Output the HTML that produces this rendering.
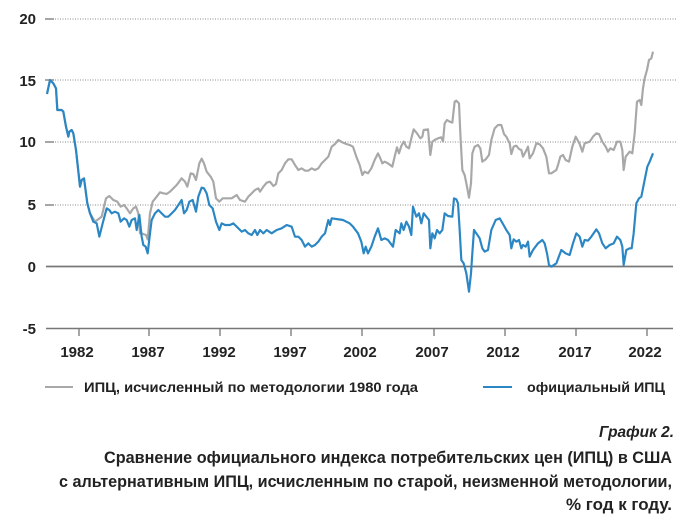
<!DOCTYPE html>
<html><head><meta charset="utf-8"><style>
html,body{margin:0;padding:0;background:#fff;}
svg{display:block;font-family:"Liberation Sans","DejaVu Sans",sans-serif;}
</style></head><body>
<svg width="686" height="531" viewBox="0 0 686 531" xmlns="http://www.w3.org/2000/svg">
<g stroke="#8a8a8a" stroke-width="1" stroke-dasharray="1,1.5">
<line x1="55" y1="19" x2="676" y2="19"/>
<line x1="55" y1="80" x2="676" y2="80"/>
<line x1="55" y1="142" x2="676" y2="142"/>
<line x1="55" y1="205" x2="676" y2="205"/>
</g>
<g stroke="#777" stroke-width="1.3">
<line x1="45" y1="19" x2="54" y2="19"/>
<line x1="45" y1="80" x2="54" y2="80"/>
<line x1="45" y1="142" x2="54" y2="142"/>
<line x1="45" y1="205" x2="54" y2="205"/>
</g>
<line x1="46" y1="266.5" x2="673" y2="266.5" stroke="#777" stroke-width="1.8"/>
<line x1="46" y1="328.5" x2="673" y2="328.5" stroke="#777" stroke-width="1.5"/>
<g stroke="#777" stroke-width="1.3">
<line x1="79" y1="328" x2="79" y2="336"/><line x1="149" y1="328" x2="149" y2="336"/><line x1="220" y1="328" x2="220" y2="336"/><line x1="291" y1="328" x2="291" y2="336"/><line x1="362" y1="328" x2="362" y2="336"/><line x1="434" y1="328" x2="434" y2="336"/><line x1="505" y1="328" x2="505" y2="336"/><line x1="576" y1="328" x2="576" y2="336"/><line x1="647" y1="328" x2="647" y2="336"/>
</g>
<g font-size="15" font-weight="bold" fill="#222" text-anchor="end">
<text x="36" y="24">20</text><text x="36" y="86">15</text><text x="36" y="147">10</text><text x="36" y="210">5</text><text x="36" y="272">0</text><text x="36" y="334">-5</text>
</g>
<g font-size="15" font-weight="bold" fill="#222" text-anchor="middle">
<text x="77" y="357">1982</text><text x="148" y="357">1987</text><text x="219" y="357">1992</text><text x="290" y="357">1997</text><text x="360" y="357">2002</text><text x="432" y="357">2007</text><text x="503" y="357">2012</text><text x="575" y="357">2017</text><text x="645" y="357">2022</text>
</g>
<g transform="scale(0.33333)" fill="none" stroke-linejoin="round" stroke-width="6.5">
<polyline stroke="#a8a8a8" points="141,282 150,240 160,250 168,265 172,330 185,330 190,335 198,380 205,410 208,395 215,390 220,400 228,450 240,560 245,540 252,535 258,580 262,610 270,640 285,665 292,660 305,650 318,595 328,588 340,600 352,605 362,620 372,615 380,625 390,640 400,625 408,620 415,640 420,700 430,702 438,705 443,718 450,640 458,605 470,590 480,577 490,580 500,582 510,575 520,565 530,555 545,535 555,545 562,560 572,520 580,522 588,540 598,490 605,476 612,490 620,515 632,530 640,545 648,595 658,605 668,595 680,595 695,595 710,585 720,600 735,605 745,590 755,580 765,570 775,565 780,575 790,560 800,548 810,545 820,558 828,552 835,520 845,510 855,490 865,478 875,478 885,495 895,510 905,505 915,512 925,512 935,505 945,510 955,505 965,490 975,480 985,470 995,440 1005,432 1015,420 1029,428 1039,432 1049,435 1059,440 1069,470 1079,495 1087,525 1094,515 1104,520 1114,505 1124,480 1134,460 1141,475 1147,490 1154,485 1164,490 1177,500 1184,470 1191,442 1197,460 1204,438 1211,425 1219,440 1227,445 1234,415 1241,388 1251,400 1261,415 1267,410 1271,390 1284,388 1291,465 1297,425 1304,420 1314,415 1324,412 1329,425 1334,370 1341,360 1349,365 1357,368 1364,305 1369,302 1377,310 1381,400 1387,510 1394,525 1401,560 1407,593 1413,550 1417,460 1424,440 1434,435 1441,445 1447,485 1457,478 1467,465 1474,420 1484,385 1494,375 1504,375 1512,402 1519,410 1529,430 1534,462 1541,440 1549,437 1557,447 1564,450 1569,470 1577,455 1584,440 1589,475 1599,460 1609,430 1619,433 1629,445 1639,470 1647,520 1654,520 1669,510 1674,495 1681,470 1689,465 1697,480 1707,485 1717,440 1727,410 1739,432 1747,455 1754,430 1769,425 1779,410 1789,400 1797,402 1807,425 1817,440 1824,455 1831,445 1841,450 1851,425 1861,425 1867,450 1871,510 1877,470 1889,455 1897,460 1904,400 1911,305 1919,300 1924,315 1929,265 1934,235 1941,210 1947,180 1954,175 1959,155"/>
<polyline stroke="#2b86c4" points="141,282 150,240 160,250 168,265 172,330 185,330 190,335 198,380 205,410 208,395 215,390 220,400 228,450 240,560 245,540 252,535 258,580 262,610 270,640 280,665 290,670 298,710 308,670 320,625 328,630 335,640 345,635 355,640 362,665 372,655 380,660 388,680 395,660 405,655 410,690 418,645 425,710 430,735 437,740 443,760 450,700 455,660 465,640 475,630 485,640 495,650 505,650 515,640 525,630 535,615 545,600 552,640 560,630 568,605 578,600 588,635 595,590 605,563 612,565 620,580 628,615 638,625 648,665 658,690 665,670 675,675 690,675 700,670 710,680 725,695 735,690 745,700 755,705 765,690 772,705 780,690 790,700 800,690 815,700 830,690 845,685 860,675 875,680 885,710 895,710 905,720 915,740 925,730 935,740 945,735 955,725 965,710 975,700 980,680 985,660 990,675 995,655 1029,660 1039,665 1049,670 1059,680 1074,700 1084,725 1091,760 1097,740 1104,760 1114,740 1124,710 1134,685 1144,720 1154,715 1164,720 1179,740 1187,690 1199,700 1204,670 1211,690 1219,665 1227,680 1234,705 1239,620 1249,650 1257,640 1264,670 1271,640 1279,650 1287,660 1291,745 1297,700 1304,715 1311,690 1319,700 1327,690 1334,640 1344,648 1357,650 1362,595 1369,598 1374,610 1379,690 1384,780 1391,790 1399,820 1407,875 1413,820 1417,760 1422,690 1429,700 1439,715 1447,745 1454,755 1464,750 1474,690 1487,660 1499,655 1509,672 1519,690 1529,705 1534,745 1541,718 1549,725 1557,720 1564,745 1569,735 1577,740 1584,725 1589,770 1599,750 1614,730 1627,720 1634,730 1641,760 1647,795 1654,800 1669,790 1684,750 1697,760 1709,765 1719,730 1729,700 1739,710 1747,740 1754,720 1764,722 1774,710 1789,688 1797,700 1807,730 1817,745 1829,735 1841,730 1851,710 1861,720 1867,740 1871,795 1879,750 1889,745 1895,745 1901,700 1909,610 1917,595 1924,590 1934,540 1942,500 1949,485 1959,460"/>
</g>
<line x1="45" y1="387" x2="73" y2="387" stroke="#a8a8a8" stroke-width="2"/>
<text x="84" y="392" font-size="14" font-weight="bold" fill="#222" textLength="334" lengthAdjust="spacingAndGlyphs">ИПЦ, исчисленный по методологии 1980 года</text>
<line x1="483" y1="387" x2="512" y2="387" stroke="#2b86c4" stroke-width="2"/>
<text x="527" y="392" font-size="14" font-weight="bold" fill="#222" textLength="138" lengthAdjust="spacingAndGlyphs">официальный ИПЦ</text>
<text x="674" y="437" font-size="16" font-weight="bold" font-style="italic" fill="#222" text-anchor="end" textLength="75" lengthAdjust="spacingAndGlyphs">График 2.</text>
<text x="672" y="463" font-size="17" font-weight="bold" fill="#222" text-anchor="end" textLength="568" lengthAdjust="spacingAndGlyphs">Сравнение официального индекса потребительских цен (ИПЦ) в США</text>
<text x="672" y="487" font-size="17" font-weight="bold" fill="#222" text-anchor="end" textLength="613" lengthAdjust="spacingAndGlyphs">с альтернативным ИПЦ, исчисленным по старой, неизменной методологии,</text>
<text x="672" y="510" font-size="17" font-weight="bold" fill="#222" text-anchor="end" textLength="106" lengthAdjust="spacingAndGlyphs">% год к году.</text>
</svg>
</body></html>
